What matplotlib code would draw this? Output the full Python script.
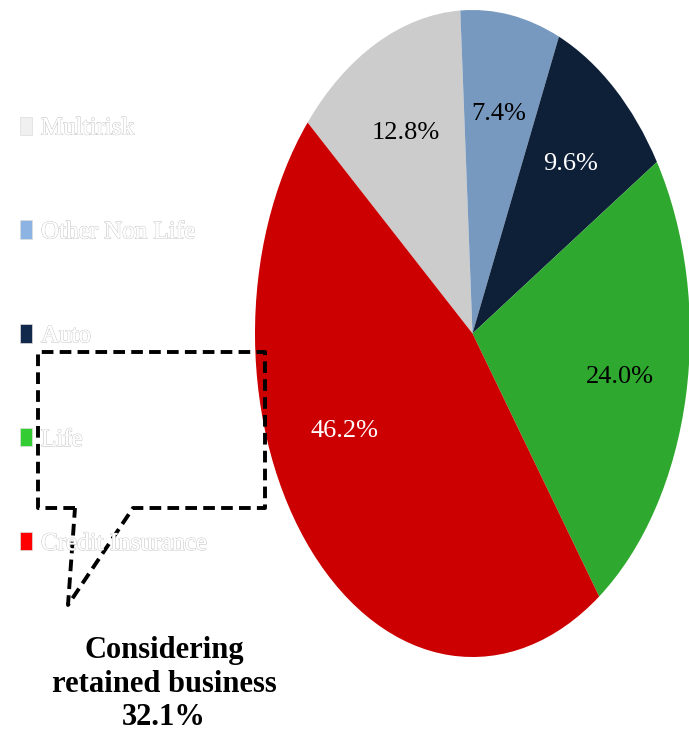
"""
Premium mix pie with side legend and retained-business callout.
"""

import matplotlib
matplotlib.use("Agg")
import matplotlib.pyplot as plt
import matplotlib.patches as mpatches
import matplotlib.patheffects as pe

# portfolio split (% of gross written premium)
LINES=["Multirisk","Other Non Life","Auto","Life","Credit Insurance"]
SHARES=[12.8,7.4,9.6,24.0,46.2]
PIE_COLORS=["#cccccc","#7799c0","#0e1f38","#2ea82e","#cc0000"]
KEY_COLORS=["#f0f0f0","#8db3e2","#13294b","#33cc33","#ff0000"]
PCT_COLORS=["black","black","white","black","white"]
CALLOUT="Considering\nretained business\n32.1%"

W,H=689,738
fig=plt.figure(figsize=(W/100,H/100),dpi=100)

# pie stretched into an ellipse: axes not square, aspect left on auto
ax=fig.add_axes([255/W,(H-657)/H,435/W,647/H])
wedges,_,pcts=ax.pie(SHARES,colors=PIE_COLORS,startangle=139.3,counterclock=False,
                     autopct="%.1f%%",pctdistance=0.69,
                     wedgeprops=dict(linewidth=0),
                     textprops=dict(family="Liberation Serif",fontsize=19))
for t,c in zip(pcts,PCT_COLORS):
    t.set_color(c)
# credit label sits higher up in its wedge
pcts[4].set_position((-0.59,-0.30))
ax.set_aspect("auto")
ax.set_xlim(-1,1);ax.set_ylim(-1,1)
ax.axis("off")

# legend, very pale outlined text
handles=[mpatches.Patch(facecolor=c,edgecolor="#dddddd",linewidth=0.5,label=l)
         for c,l in zip(KEY_COLORS,LINES)]
leg=fig.legend(handles=handles,loc="upper left",bbox_to_anchor=(-0.004,1-94/H),
               frameon=False,prop=dict(family="Liberation Serif",size=18),
               labelspacing=3.24,handlelength=0.5,handleheight=0.75,handletextpad=0.35)
for t in leg.get_texts():
    t.set_color("white")
    t.set_path_effects([pe.withStroke(linewidth=0.9,foreground="#c8c8c8"),pe.Normal()])

# callout box in pixel coords
ov=fig.add_axes([0,0,1,1],facecolor="none")
ov.set_xlim(0,W);ov.set_ylim(H,0)
ov.axis("off")
box_x=[75,38,38,265,265,133,68,75]
box_y=[508,508,352,352,508,508,605,508]
ov.plot(box_x,box_y,color="black",linewidth=2.8,linestyle=(0,(3,1.6)),
        solid_joinstyle="miter")
ov.text(164,684,CALLOUT,ha="center",va="center",fontsize=22,fontweight="bold",
        family="Liberation Serif",linespacing=1.22)

fig.savefig("out.png",dpi=100)
